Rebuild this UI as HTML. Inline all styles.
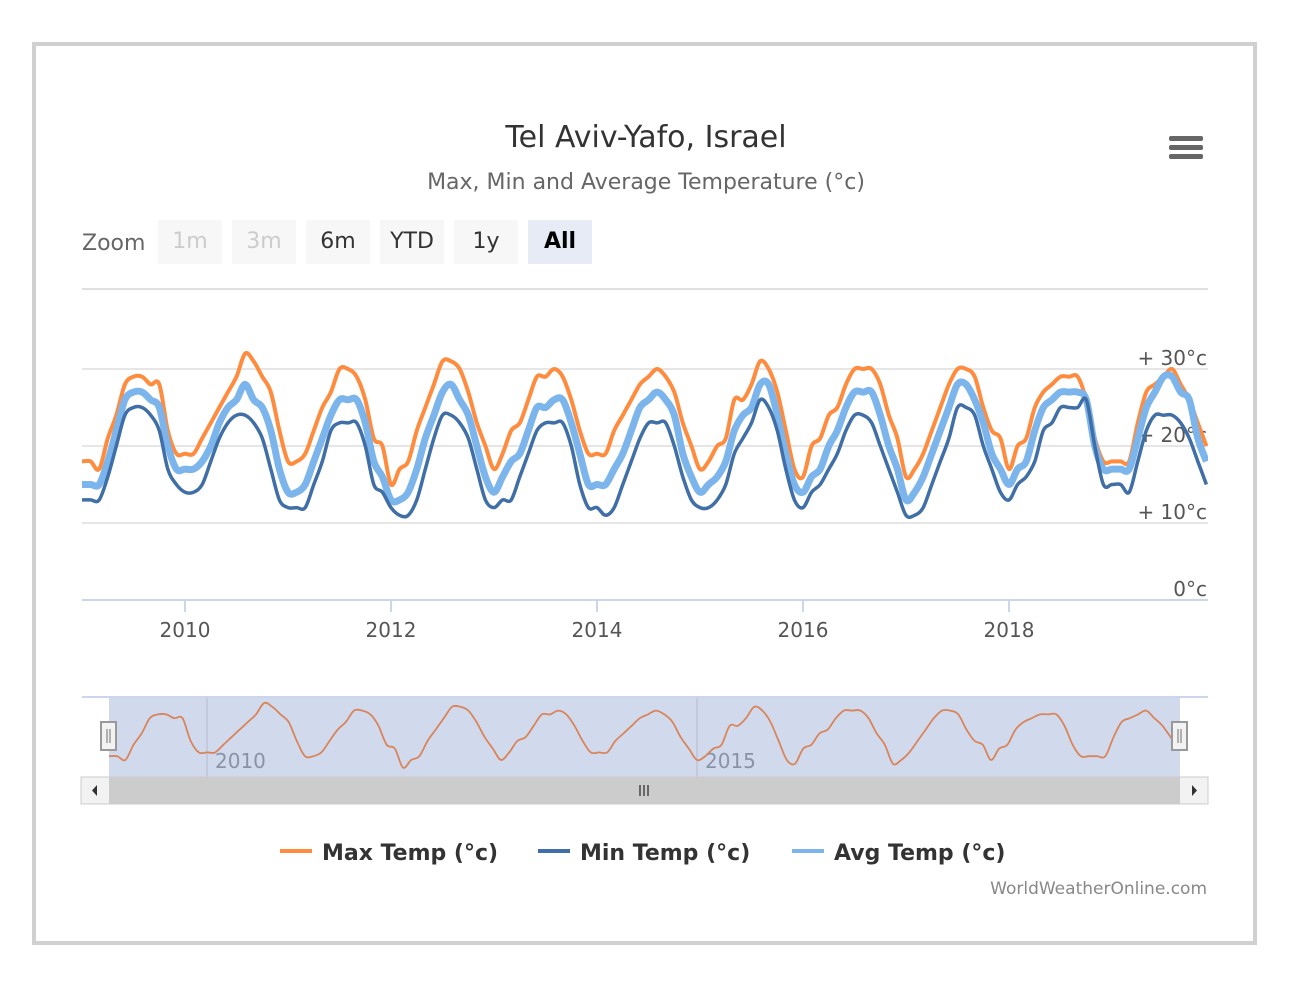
<!DOCTYPE html>
<html><head><meta charset="utf-8">
<style>
body{margin:0;background:#fff;font-family:"Liberation Sans","DejaVu Sans",sans-serif;}
svg text{font-family:"DejaVu Sans","Liberation Sans",sans-serif;}
</style></head>
<body>
<svg id="chart" width="1295" height="988" xmlns="http://www.w3.org/2000/svg">
<rect x="34" y="44" width="1221" height="899" fill="#fff" stroke="#d0d0d0" stroke-width="4"/>
<text x="646" y="147" text-anchor="middle" font-size="30" fill="#333">Tel Aviv-Yafo, Israel</text>
<text x="646" y="189" text-anchor="middle" font-size="22" fill="#666">Max, Min and Average Temperature (°c)</text>
<g><rect x="1169" y="136" width="34" height="5" rx="2" fill="#666"/><rect x="1169" y="145" width="34" height="5" rx="2" fill="#666"/><rect x="1169" y="154" width="34" height="5" rx="2" fill="#666"/></g>
<text x="82" y="250" font-size="22" fill="#666">Zoom</text>
<g><rect x="158" y="220" width="64" height="44" fill="#f7f7f7"/><text x="190" y="248" text-anchor="middle" font-size="22" fill="#ccc">1m</text></g>
<g><rect x="232" y="220" width="64" height="44" fill="#f7f7f7"/><text x="264" y="248" text-anchor="middle" font-size="22" fill="#ccc">3m</text></g>
<g><rect x="306" y="220" width="64" height="44" fill="#f7f7f7"/><text x="338" y="248" text-anchor="middle" font-size="22" fill="#333">6m</text></g>
<g><rect x="380" y="220" width="64" height="44" fill="#f7f7f7"/><text x="412" y="248" text-anchor="middle" font-size="22" fill="#333">YTD</text></g>
<g><rect x="454" y="220" width="64" height="44" fill="#f7f7f7"/><text x="486" y="248" text-anchor="middle" font-size="22" fill="#333">1y</text></g>
<g><rect x="528" y="220" width="64" height="44" fill="#e6ebf5"/><text x="560" y="248" text-anchor="middle" font-size="22" font-weight="bold" fill="#000">All</text></g>
<g id="grid"></g>
<g id="series"></g>
<g id="nav"></g>
<g>
<g><line x1="280" y1="851" x2="312" y2="851" stroke="#ff8c3e" stroke-width="4"/><text x="322" y="860" font-size="22" font-weight="bold" fill="#333">Max Temp (°c)</text></g>
<g><line x1="538" y1="851" x2="570" y2="851" stroke="#3f6fa6" stroke-width="4"/><text x="580" y="860" font-size="22" font-weight="bold" fill="#333">Min Temp (°c)</text></g>
<g><line x1="792" y1="851" x2="824" y2="851" stroke="#7cb5ec" stroke-width="4"/><text x="834" y="860" font-size="22" font-weight="bold" fill="#333">Avg Temp (°c)</text></g>
</g>
<text x="1207" y="894" text-anchor="end" font-size="17" fill="#888">WorldWeatherOnline.com</text>
</svg>
<script>
const yearTicks=[2010,2012,2014,2016,2018];
const navYearTicks=[2010,2015];
const yTicks=[0,10,20,30];
const yTickLabels=["0°c","+ 10°c","+ 20°c","+ 30°c"];
const maxTemp=[
18,18,17,21,24,28,29,29,28,28,22,19,
19,19,21,23,25,27,29,32,31,29,27,22,
18,18,19,22,25,27,30,30,29,26,21,20,
15,17,18,22,25,28,31,31,30,27,23,20,
17,19,22,23,26,29,29,30,29,26,22,19,
19,19,22,24,26,28,29,30,29,27,23,20,
17,18,20,21,26,26,28,31,30,27,22,17,
16,20,21,24,25,28,30,30,30,28,24,21,
16,17,19,22,25,28,30,30,29,25,22,21,
17,20,21,25,27,28,29,29,29,26,21,18,
18,18,18,23,27,28,29,30,28,26,23,20];
const minTemp=[
13,13,13,16,20,24,25,25,24,22,17,15,
14,14,15,18,21,23,24,24,23,21,17,13,
12,12,12,15,18,22,23,23,23,20,15,14,
12,11,11,13,17,21,24,24,23,21,17,13,
12,13,13,16,19,22,23,23,23,20,15,12,
12,11,12,15,18,21,23,23,23,20,16,13,
12,12,13,15,19,21,23,26,25,22,17,13,
12,14,15,17,19,22,24,24,23,20,17,14,
11,11,12,15,18,21,25,25,24,20,17,14,
13,15,16,18,22,23,25,25,25,26,20,15,
15,15,14,18,22,24,24,24,23,21,18,15];
const avgTemp=[
15,15,15,18,22,26,27,27,26,25,20,17,
17,17,18,20,23,25,26,28,26,25,22,17,
14,14,15,18,21,24,26,26,26,23,18,16,
13,13,14,17,21,24,27,28,26,24,20,16,
14,16,18,19,22,25,25,26,26,23,19,15,
15,15,17,19,22,25,26,27,26,24,19,16,
14,15,16,18,22,24,25,28,28,24,19,15,
14,16,17,20,22,25,27,27,27,24,20,17,
13,14,16,19,22,25,28,28,26,23,19,17,
15,17,18,22,25,26,27,27,27,26,20,17,
17,17,17,21,25,27,29,29,27,26,21,18];
const NS='http://www.w3.org/2000/svg';
const X0=82,X1=1208,PY0=290,PY1=600;
function xScale(t){return 185+(t-2010)*103;}
function yScale(v){return 600-v*7.7;}
function nxScale(t){return 109+(t-2009)*98;}
function nyScale(v){return 703+(32-v)*3.8;}
function mk(tag,attrs,parent){const e=document.createElementNS(NS,tag);for(const k in attrs)e.setAttribute(k,attrs[k]);parent.appendChild(e);return e;}
function smooth(pts){let d='M'+pts[0][0].toFixed(1)+','+pts[0][1].toFixed(1);
for(let i=0;i<pts.length-1;i++){const p0=pts[Math.max(0,i-1)],p1=pts[i],p2=pts[i+1],p3=pts[Math.min(pts.length-1,i+2)];
const c1=[p1[0]+(p2[0]-p0[0])/6,p1[1]+(p2[1]-p0[1])/6],c2=[p2[0]-(p3[0]-p1[0])/6,p2[1]-(p3[1]-p1[1])/6];
d+='C'+c1[0].toFixed(1)+','+c1[1].toFixed(1)+' '+c2[0].toFixed(1)+','+c2[1].toFixed(1)+' '+p2[0].toFixed(1)+','+p2[1].toFixed(1);}return d;}
const grid=document.getElementById('grid');
const topBorder=mk('line',{x1:X0,x2:X1,y1:289,y2:289,stroke:'#e0e0e0','stroke-width':2},grid);


yTicks.forEach((v,i)=>{
 const y=yScale(v);
 const l=mk('line',{x1:X0,x2:X1,y1:y,y2:y,stroke:i==0?'#ccd6eb':'#e6e6e6','stroke-width':2},grid);
 
 
 const t=mk('text',{x:1207,y:y-4,'text-anchor':'end','font-size':20,fill:'#555'},grid);
 t.textContent=yTickLabels[i];
 
 
});
yearTicks.forEach(yr=>{
 const x=xScale(yr);
 const l=mk('line',{x1:x,x2:x,y1:600,y2:612,stroke:'#ccd6eb','stroke-width':2},grid);
 
 
 const t=mk('text',{x:x,y:637,'text-anchor':'middle','font-size':20,fill:'#555'},grid);
 t.textContent=yr;
 
 
});
const ser=document.getElementById('series');
function pts(arr,xs,ys){return arr.map((v,i)=>[xs(2009+i/12),ys(v)]);}
const cp=mk('clipPath',{id:'pc'},ser);mk('rect',{x:X0,y:PY0,width:X1-X0,height:PY1-PY0},cp);
ser.setAttribute('clip-path','url(#pc)');
[[maxTemp,'#ff8c3e',4,'max-temp-line'],[avgTemp,'#7cb5ec',7,'avg-temp-line'],[minTemp,'#3f6fa6',3.5,'min-temp-line']].forEach(s=>{
 const p=mk('path',{d:smooth(pts(s[0],xScale,yScale)),fill:'none',stroke:s[1],'stroke-width':s[2],'stroke-linejoin':'round'},ser);
 
 
});
const nav=document.getElementById('nav');
const nb=mk('line',{x1:X0,x2:X1,y1:697,y2:697,stroke:'#ccd6eb','stroke-width':2},nav);


const sel=mk('rect',{x:109,y:698,width:1071,height:79,fill:'rgba(102,133,194,0.3)'},nav);


navYearTicks.forEach(yr=>{
 const x=nxScale(yr);
 const l=mk('line',{x1:x,x2:x,y1:698,y2:777,stroke:'#bcc4d6','stroke-width':1.5},nav);
 
 
 const t=mk('text',{x:x+8,y:768,'font-size':20,fill:'#8a93a6'},nav);
 t.textContent=yr;
 
 
});
const nl=mk('path',{d:smooth(pts(maxTemp,nxScale,nyScale)),fill:'none',stroke:'#d9845a','stroke-width':1.8},nav);


[[101,'navigator-left-handle'],[1172,'navigator-right-handle']].forEach(h=>{
 const g=mk('g',{},nav);
 
 
 mk('rect',{x:h[0],y:722,width:15,height:28,fill:'#f2f2f2',stroke:'#999','stroke-width':2},g);
 mk('line',{x1:h[0]+6,x2:h[0]+6,y1:729,y2:743,stroke:'#999','stroke-width':1.5},g);
 mk('line',{x1:h[0]+9,x2:h[0]+9,y1:729,y2:743,stroke:'#999','stroke-width':1.5},g);
});
const sb=mk('g',{},nav);


mk('rect',{x:81,y:777,width:1127,height:27,fill:'#f2f2f2',stroke:'#ccc'},sb);
mk('rect',{x:109,y:777,width:1071,height:27,fill:'#ccc'},sb);
mk('polygon',{points:'97,785 97,796 92,790.5',fill:'#333'},sb);
mk('polygon',{points:'1192,785 1192,796 1197,790.5',fill:'#333'},sb);
[640,644,648].forEach(x=>mk('line',{x1:x,x2:x,y1:785,y2:796,stroke:'#333','stroke-width':1.3},sb));
</script>
</body></html>
